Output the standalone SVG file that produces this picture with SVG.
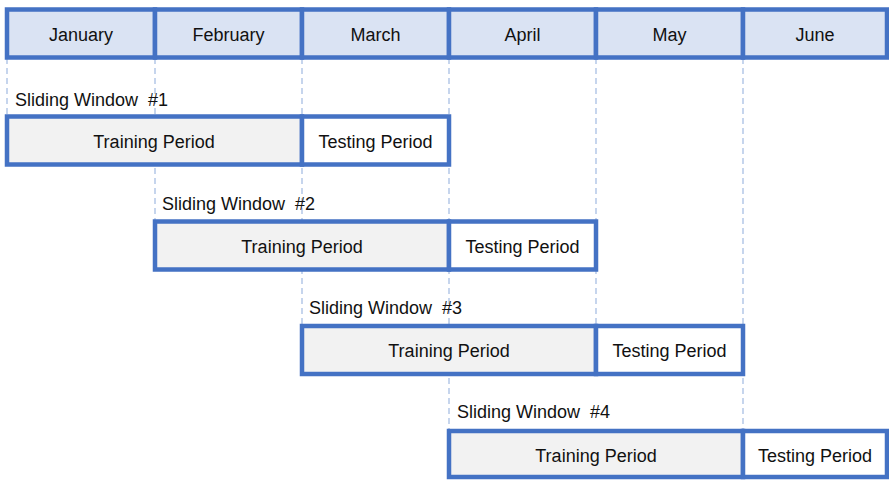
<svg xmlns="http://www.w3.org/2000/svg" width="889" height="480" viewBox="0 0 889 480">
<style>
.cell{stroke:#4472c4;stroke-width:4.5}
.hdr{fill:#dae3f3}
.train{fill:#f2f2f2}
.test{fill:#ffffff}
.grid{stroke:#b4c7e7;stroke-width:1.5;stroke-dasharray:6,4;fill:none}
text{font-family:"Liberation Sans",Arial,sans-serif;font-size:18px;fill:#111}
.c{text-anchor:middle}
.lbl{font-size:18px;white-space:pre}
</style>
<rect width="889" height="480" fill="#ffffff"/>
<g id="connectors">
<line class="grid" x1="7" y1="58" x2="7" y2="116"/>
<line class="grid" x1="155" y1="58" x2="155" y2="221"/>
<line class="grid" x1="302" y1="58" x2="302" y2="326"/>
<line class="grid" x1="449" y1="58" x2="449" y2="431"/>
<line class="grid" x1="596" y1="58" x2="596" y2="326"/>
<line class="grid" x1="743" y1="58" x2="743" y2="431"/>
</g>
<g id="header">
<g id="jan"><rect class="cell hdr" x="7" y="9.5" width="148" height="48"/><text class="c" x="81" y="40.5">January</text></g>
<g id="feb"><rect class="cell hdr" x="155" y="9.5" width="147" height="48"/><text class="c" x="228.5" y="40.5">February</text></g>
<g id="mar"><rect class="cell hdr" x="302" y="9.5" width="147" height="48"/><text class="c" x="375.5" y="40.5">March</text></g>
<g id="apr"><rect class="cell hdr" x="449" y="9.5" width="147" height="48"/><text class="c" x="522.5" y="40.5">April</text></g>
<g id="may"><rect class="cell hdr" x="596" y="9.5" width="147" height="48"/><text class="c" x="669.5" y="40.5">May</text></g>
<g id="jun"><rect class="cell hdr" x="743" y="9.5" width="144" height="48"/><text class="c" x="815" y="40.5">June</text></g>
</g>
<g id="window1">
<text class="lbl" x="15" y="106" xml:space="preserve">Sliding Window  #1</text>
<rect class="cell train" x="7" y="116.5" width="295" height="48"/>
<text class="c" x="154" y="147.5">Training Period</text>
<rect class="cell test" x="302" y="116.5" width="147" height="48"/>
<text class="c" x="375.5" y="147.5">Testing Period</text>
</g>
<g id="window2">
<text class="lbl" x="162" y="210" xml:space="preserve">Sliding Window  #2</text>
<rect class="cell train" x="155" y="221.5" width="294" height="48"/>
<text class="c" x="302" y="252.5">Training Period</text>
<rect class="cell test" x="449" y="221.5" width="147" height="48"/>
<text class="c" x="522.5" y="252.5">Testing Period</text>
</g>
<g id="window3">
<text class="lbl" x="309" y="314" xml:space="preserve">Sliding Window  #3</text>
<rect class="cell train" x="302" y="326" width="294" height="48"/>
<text class="c" x="449" y="357">Training Period</text>
<rect class="cell test" x="596" y="326" width="147" height="48"/>
<text class="c" x="669.5" y="357">Testing Period</text>
</g>
<g id="window4">
<text class="lbl" x="457" y="418" xml:space="preserve">Sliding Window  #4</text>
<rect class="cell train" x="449" y="431" width="294" height="46"/>
<text class="c" x="596" y="461.5">Training Period</text>
<rect class="cell test" x="743" y="431" width="144" height="46"/>
<text class="c" x="815" y="461.5">Testing Period</text>
</g>
</svg>
